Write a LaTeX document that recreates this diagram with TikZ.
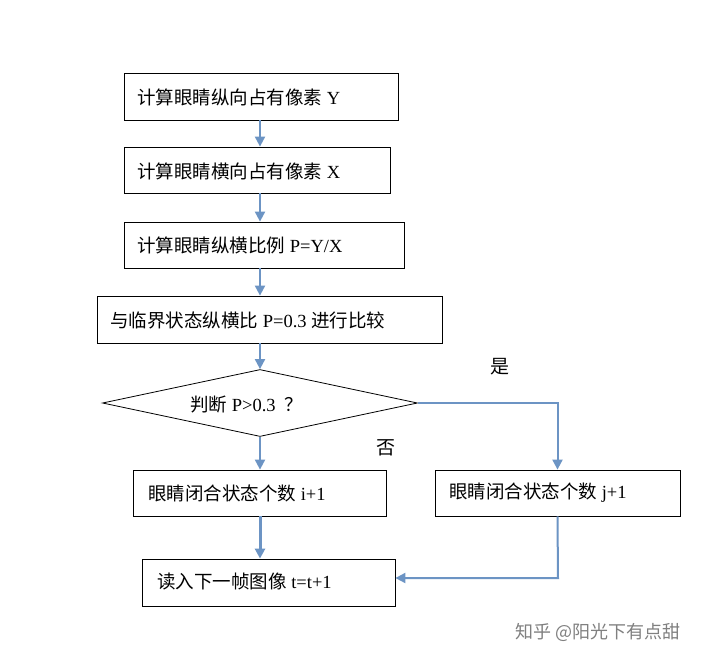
\documentclass[tikz,border=0pt]{standalone}
\usepackage{fontspec}
\setmainfont{Liberation Serif}
\newfontfamily\cjk{Noto Sans CJK SC}
\usetikzlibrary{shapes.geometric,arrows.meta}
\definecolor{ln}{RGB}{108,148,196}
\tikzset{
  box/.style={draw=black, line width=0.8pt, rectangle, inner sep=0pt},
  txt/.style={anchor=west, inner sep=0pt, font=\fontsize{18.5}{20}\selectfont},
  conn/.style={draw=ln, line width=2pt, -{Triangle[length=10pt,width=10pt]}},
  lab/.style={font=\fontsize{19}{21}\selectfont\cjk}
}
\begin{document}
\begin{tikzpicture}[x=1pt,y=-1pt]
\useasboundingbox (0,0) rectangle (716,665);
\fill[white] (0,0) rectangle (716,665);
\node[box, minimum width=274, minimum height=47] (b1) at (261,96.5) {};
\node[box, minimum width=266, minimum height=46] (b2) at (257,170) {};
\node[box, minimum width=280, minimum height=46] (b3) at (264,245) {};
\node[box, minimum width=345, minimum height=47] (b4) at (269.5,319.5) {};
\node[box, diamond, aspect=4.7, minimum width=315, minimum height=67] (d) at (260,403) {};
\node[box, minimum width=253, minimum height=46] (b5) at (259.5,493) {};
\node[box, minimum width=245, minimum height=46] (b6) at (557.5,493) {};
\node[box, minimum width=253, minimum height=47] (b7) at (268.5,582.5) {};
\node[txt] (t1) at (137,97) {{\cjk 计算眼睛纵向占有像素} Y};
\node[txt] (t2) at (137,171) {{\cjk 计算眼睛横向占有像素} X};
\node[txt] (t3) at (137,245) {{\cjk 计算眼睛纵横比例} P=Y/X};
\node[txt] (t4) at (110,320) {{\cjk 与临界状态纵横比} P=0.3 {\cjk 进行比较}};
\node[txt] (t5) at (190,405) {{\cjk 判断} P\textgreater0.3 \ {\cjk ？}};
\node[txt] (t6) at (148,493) {{\cjk 眼睛闭合状态个数} i+1};
\node[txt] (t7) at (449,493) {{\cjk 眼睛闭合状态个数} j+1};
\node[txt] (t8) at (157,582) {{\cjk 读入下一帧图像} t=t+1};
\draw[conn] (b1.south -| 260,0) -- (b2.north -| 260,0);
\draw[conn] (b2.south -| 260,0) -- (b3.north -| 260,0);
\draw[conn] (b3.south -| 260,0) -- (b4.north -| 260,0);
\draw[conn] (b4.south -| 260,0) -- (d.north);
\draw[conn] (d.south) -- (b5.north -| 260,0);
\draw[conn] (d.east) -| (b6.north);
\draw[conn, line width=3pt] (b5.south -| 260,0) -- (b7.north -| 260,0);
\coordinate (c1) at (558,578);
\draw[conn] (b6.south) -- (c1) -- (c1 -| b7.east);
\node[lab] (y) at (500,367) {是};
\node[lab] (n) at (386,448) {否};
\node[font=\fontsize{18}{20}\selectfont\cjk, text=gray] (w) at (598,632) {知乎 @阳光下有点甜};
\end{tikzpicture}
\end{document}
